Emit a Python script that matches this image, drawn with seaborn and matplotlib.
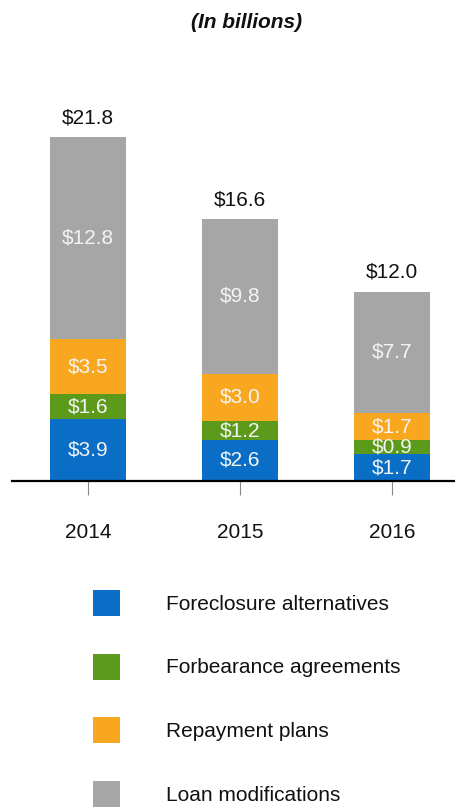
import numpy as np
import pandas as pd
import matplotlib
matplotlib.use("Agg")
import matplotlib.pyplot as plt
from matplotlib.patches import Patch
import seaborn as sns

years = ["2014", "2015", "2016"]
series = ["Foreclosure alternatives", "Forbearance agreements", "Repayment plans", "Loan modifications"]
foreclosure = [3.9, 2.6, 1.7]
forbearance = [1.6, 1.2, 0.9]
repayment = [3.5, 3.0, 1.7]
loan_mods = [12.8, 9.8, 7.7]
totals = [21.8, 16.6, 12.0]
colors = ["#0a6ec6", "#5b9a1a", "#f9a71e", "#a6a6a6"]

sns.set_style("white")
plt.rcParams["font.family"] = ["Liberation Sans", "DejaVu Sans"]

df = pd.DataFrame({"year": years,
                   series[0]: foreclosure,
                   series[1]: forbearance,
                   series[2]: repayment,
                   series[3]: loan_mods})
cum = df[series].cumsum(axis=1)

fig = plt.figure(figsize=(4.56, 8.07), dpi=100)
ax = fig.add_axes([12 / 456, 1 - 481 / 807, 1 - 12 / 456, (481 - 90) / 807])

# draw cumulative heights from the top layer down so lower layers overlay
for name, col in zip(series[::-1], colors[::-1]):
    sns.barplot(x=df["year"], y=cum[name], color=col, width=0.5,
                saturation=1, ax=ax, linewidth=0)

# totals above bars
ax.bar_label(ax.containers[0], labels=[f"${t:.1f}" for t in totals],
             padding=7, fontsize=15, color="#111111")

# segment labels
for name in series:
    for i, v in enumerate(df[name]):
        mid = cum[name][i] - v / 2
        ax.text(i, mid, f"${v:.1f}", ha="center", va="center",
                fontsize=15, color="#f4f4f4")

ax.set_xlim(-0.5, 2.42)
ax.set_ylim(0, (481 - 90) / 15.78)
ax.set_xlabel("")
ax.set_ylabel("")
ax.set_yticks([])
for s in ["top", "right", "left"]:
    ax.spines[s].set_visible(False)
ax.spines["bottom"].set_color("black")
ax.spines["bottom"].set_linewidth(1.6)
ax.tick_params(axis="x", bottom=True, length=10, width=0.8, color="#888888",
               pad=20, labelsize=15, labelcolor="#111111")

fig.text(247 / 456, 1 - 22 / 807, "(In billions)", ha="center", va="center",
         fontsize=15, fontweight="bold", fontstyle="italic", color="#111111")

handles = [Patch(facecolor=c, edgecolor="none") for c in colors]
fig.legend(handles, series, loc="upper left",
           bbox_to_anchor=(93 / 456, 1 - 590 / 807), frameon=False,
           fontsize=15, handlelength=1.3, handleheight=1.55,
           handletextpad=2.2, labelspacing=1.8, borderpad=0, borderaxespad=0,
           labelcolor="#111111")

fig.savefig("out.png", dpi=100, facecolor="white")
